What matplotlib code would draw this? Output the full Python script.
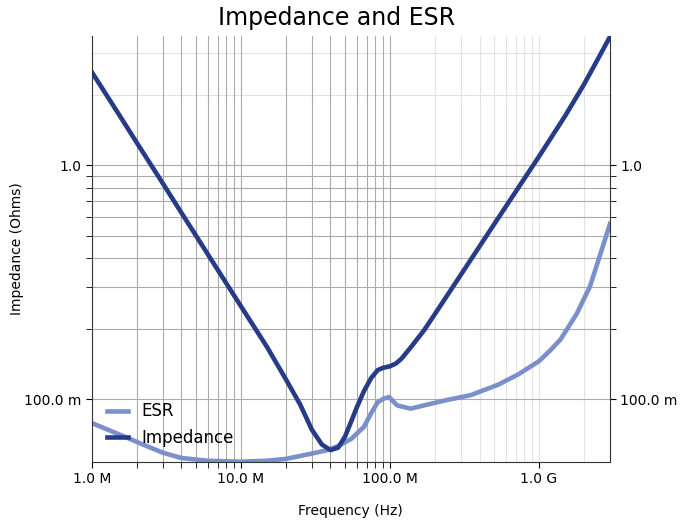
import matplotlib
matplotlib.use("Agg")
import matplotlib.pyplot as plt
from matplotlib.ticker import EngFormatter, FixedLocator, LogLocator

# impedance magnitude, read at selected sweep frequencies
imp_freq = [1e6, 1.5e6, 2e6, 3e6, 4e6, 5e6, 7e6, 1e7, 1.5e7, 2e7, 2.5e7, 3e7,
            3.5e7, 4e7, 4.5e7, 5e7, 5.5e7, 6e7, 6.7e7, 7.5e7, 8.3e7, 9e7, 1e8,
            1.1e8, 1.2e8, 1.4e8, 1.7e8, 2e8, 3e8, 5e8, 7e8, 1e9, 1.5e9, 2e9,
            2.5e9, 3e9]
imp_ohm = [2.5, 1.67, 1.25, 0.835, 0.625, 0.5, 0.357, 0.25, 0.167, 0.122,
           0.095, 0.074, 0.064, 0.0605, 0.062, 0.069, 0.080, 0.092, 0.108,
           0.123, 0.133, 0.136, 0.138, 0.142, 0.149, 0.168, 0.197, 0.230,
           0.340, 0.557, 0.77, 1.085, 1.62, 2.2, 2.85, 3.53]

# equivalent series resistance
esr_freq = [1e6, 1.5e6, 2.2e6, 3e6, 4e6, 6e6, 1e7, 1.5e7, 2e7, 3e7, 3.8e7,
            4.5e7, 5.5e7, 6.7e7, 7.5e7, 8.3e7, 9.1e7, 9.9e7, 1.12e8, 1.38e8,
            1.7e8, 2.4e8, 3.5e8, 5.3e8, 7.2e8, 1e9, 1.2e9, 1.4e9, 1.8e9,
            2.2e9, 2.6e9, 3e9]
esr_ohm = [0.079, 0.071, 0.064, 0.059, 0.056, 0.0545, 0.054, 0.0545, 0.0555,
           0.0585, 0.0605, 0.063, 0.0675, 0.076, 0.087, 0.097, 0.1005, 0.102,
           0.094, 0.091, 0.094, 0.099, 0.104, 0.115, 0.127, 0.145, 0.162,
           0.180, 0.232, 0.302, 0.42, 0.56]

dark_grid = "#ababab"
light_grid = "#e3e3e3"

fig = plt.figure(figsize=(6.83, 5.22), dpi=100)
ax = fig.add_axes([0.1343, 0.1155, 0.7587, 0.8155])

ax.plot(esr_freq, esr_ohm, color="#7b8fcb", lw=3.3, label="ESR")
ax.plot(imp_freq, imp_ohm, color="#263c86", lw=3.3, label="Impedance")

ax.set_xscale("log")
ax.set_yscale("log")
ax.set_xlim(1e6, 3e9)
ax.set_ylim(0.054, 3.56)

ax.xaxis.set_major_locator(LogLocator(base=10))
ax.xaxis.set_major_formatter(EngFormatter(places=1, sep=" "))
ax.yaxis.set_major_formatter(EngFormatter(places=1, sep=" "))
ax.yaxis.set_major_locator(FixedLocator([0.1, 1.0]))

# minor ticks only in the first two frequency decades and the 0.1-1 ohm decade
x_minor = [m * d for d in (1e6, 1e7) for m in range(2, 10)]
y_minor = [m * 0.1 for m in range(2, 10)]
ax.xaxis.set_minor_locator(FixedLocator(x_minor))
ax.yaxis.set_minor_locator(FixedLocator(y_minor))
ax.xaxis.set_minor_formatter(plt.NullFormatter())
ax.yaxis.set_minor_formatter(plt.NullFormatter())

ax.grid(which="both", color=dark_grid, lw=0.8)
for f in [m * 1e8 for m in range(2, 10)] + [2e9, 3e9]:
    ax.axvline(f, color=light_grid, lw=0.8, zorder=0.5)
for z in (2.0, 3.0):
    ax.axhline(z, color=light_grid, lw=0.8, zorder=0.5)
ax.set_axisbelow(True)

ax.tick_params(which="both", length=4, labelsize=10)
ax.tick_params(axis="y", which="both", right=True, labelright=True)
ax.spines["top"].set_visible(False)
for s in ("left", "right", "bottom"):
    ax.spines[s].set_color("#333333")

ax.set_xlabel("Frequency (Hz)", fontsize=10, labelpad=13)
ax.set_ylabel("Impedance (Ohms)", fontsize=10, labelpad=0)
fig.suptitle("Impedance and ESR", fontsize=17, x=0.493, y=0.988)

ax.legend(loc="lower left", frameon=False, fontsize=12, handlelength=1.3)

# the GHz gridline is drawn faint like the rest of the upper decades
fig.canvas.draw()
for tick in ax.xaxis.get_major_ticks():
    if tick.get_loc() >= 1e9:
        tick.gridline.set_color(light_grid)

fig.savefig("out.png", dpi=100)
